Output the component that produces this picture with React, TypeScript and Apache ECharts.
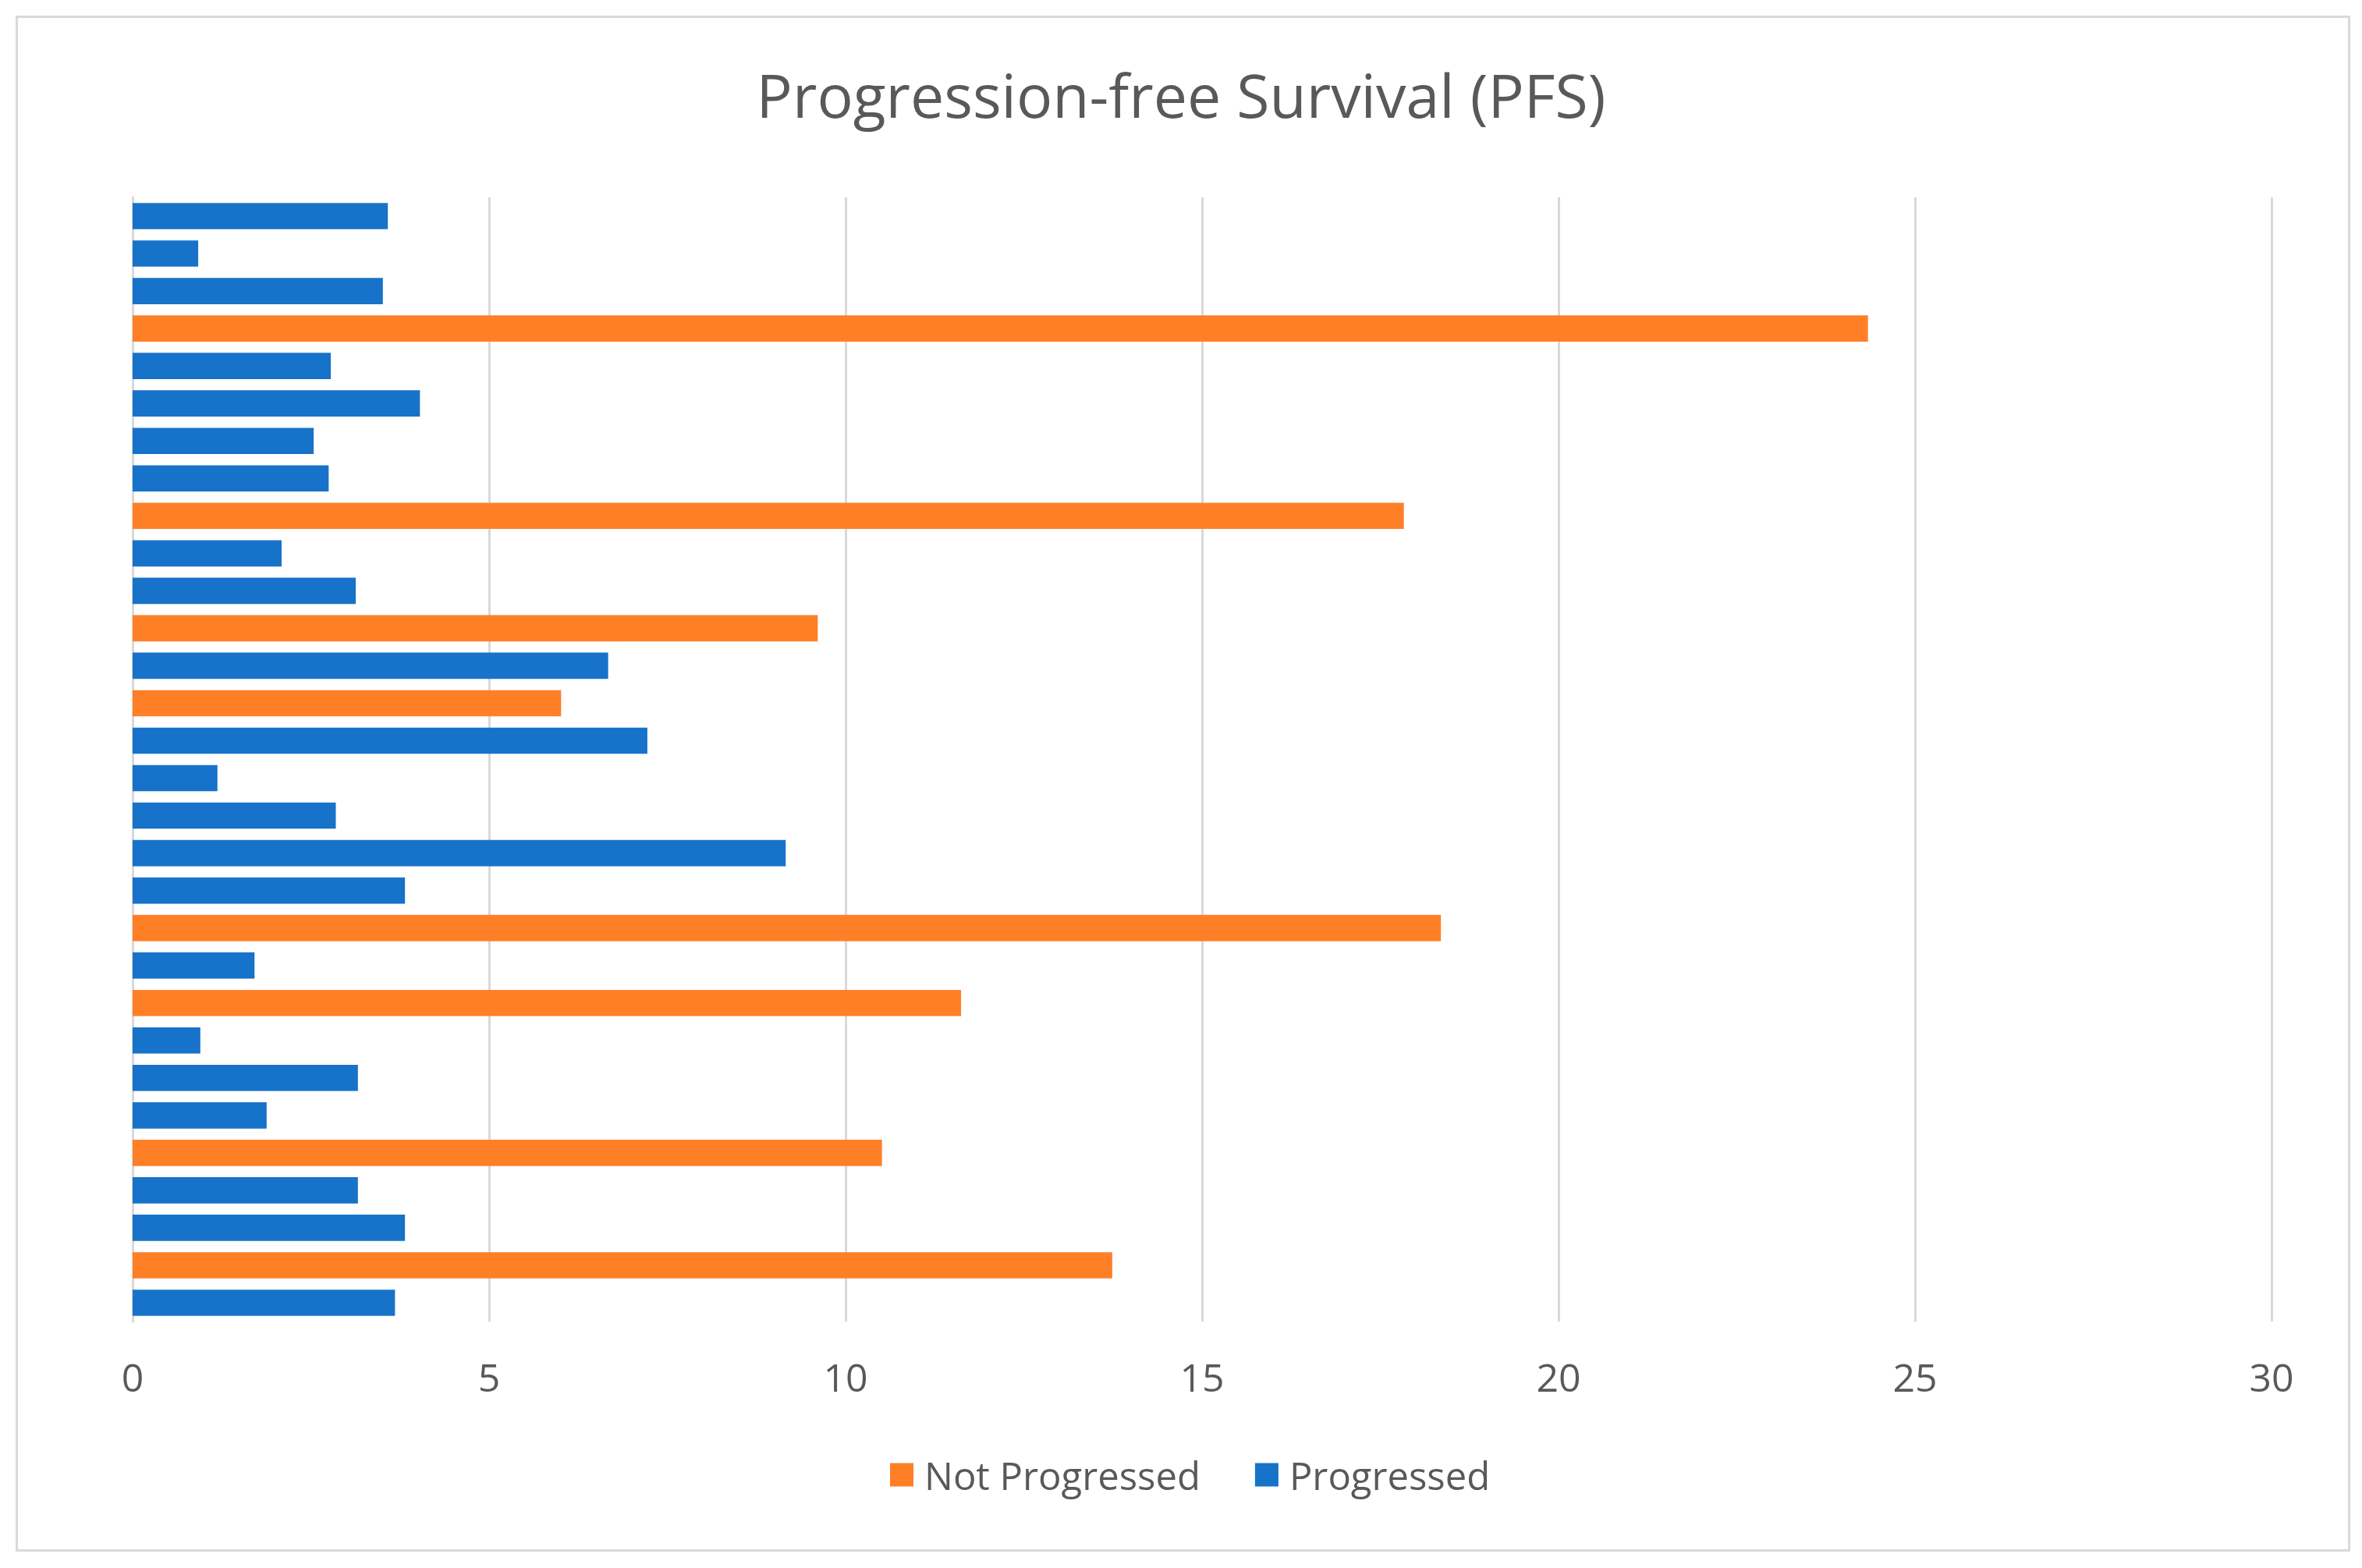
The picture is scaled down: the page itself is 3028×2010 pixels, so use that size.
import React, { useEffect, useRef } from "react";
import * as echarts from "echarts";

const categories = [
  "P1", "P2", "P3", "P4", "P5", "P6", "P7", "P8", "P9", "P10",
  "P11", "P12", "P13", "P14", "P15", "P16", "P17", "P18", "P19", "P20",
  "P21", "P22", "P23", "P24", "P25", "P26", "P27", "P28", "P29", "P30",
];

const progressed = [
  3.58, 0.92, 3.51, null, 2.78, 4.03, 2.54, 2.75, null, 2.09,
  3.13, null, 6.67, null, 7.22, 1.19, 2.85, 9.16, 3.82, null,
  1.71, null, 0.95, 3.16, 1.88, null, 3.16, 3.82, null, 3.68,
];

const notProgressed = [
  null, null, null, 24.34, null, null, null, null, 17.83, null,
  null, 9.61, null, 6.01, null, null, null, null, null, 18.35,
  null, 11.62, null, null, null, 10.51, null, null, 13.74, null,
];

const xTicks = { min: 0, max: 30, interval: 5 };

const BLUE = "#1772C9";
const ORANGE = "#FF7F27";
const TEXT = "#595959";
const GRID = "#D9D9D9";
const FONT = "'Open Sans', 'Noto Sans', sans-serif";

export default function App() {
  const ref = useRef<HTMLDivElement>(null);

  useEffect(() => {
    if (!ref.current) return;
    const chart = echarts.init(ref.current, undefined, { renderer: "svg" });
    chart.setOption({
      animation: false,
      backgroundColor: "#ffffff",
      textStyle: { fontFamily: FONT, color: TEXT },
      title: {
        text: "Progression-free Survival (PFS)",
        left: "center",
        top: 78,
        textStyle: { fontFamily: FONT, fontSize: 77, fontWeight: "normal", color: TEXT },
      },
      legend: {
        top: 1866,
        left: 1141,
        padding: 0,
        itemWidth: 30,
        itemHeight: 30,
        itemGap: 70,
        icon: "rect",
        textStyle: { fontFamily: FONT, fontSize: 49, color: TEXT, padding: [0, 0, 0, 9] },
        data: ["Not Progressed", "Progressed"],
      },
      grid: { left: 170, right: 116, top: 253, bottom: 316, containLabel: false },
      xAxis: {
        type: "value",
        min: xTicks.min,
        max: xTicks.max,
        interval: xTicks.interval,
        axisLine: { show: false },
        axisTick: { show: false },
        axisLabel: { fontFamily: FONT, fontSize: 50, color: TEXT, margin: 46 },
        splitLine: { show: true, lineStyle: { color: GRID, width: 3 } },
      },
      yAxis: {
        type: "category",
        data: categories,
        inverse: true,
        axisLine: { show: true, lineStyle: { color: GRID, width: 3 } },
        axisTick: { show: false },
        axisLabel: { show: false },
        splitLine: { show: false },
      },
      series: [
        {
          name: "Not Progressed",
          type: "bar",
          stack: "pfs",
          data: notProgressed.map((v) => (v === null ? "-" : v)),
          itemStyle: { color: ORANGE },
          barCategoryGap: "30%",
        },
        {
          name: "Progressed",
          type: "bar",
          stack: "pfs",
          data: progressed.map((v) => (v === null ? "-" : v)),
          itemStyle: { color: BLUE },
          barCategoryGap: "30%",
        },
      ],
      graphic: [
        {
          type: "rect",
          left: 19,
          top: 19,
          shape: { x: 0, y: 0, width: 2990, height: 1966 },
          style: { fill: "none", stroke: GRID, lineWidth: 3 },
          silent: true,
        },
      ],
    });
    return () => chart.dispose();
  }, []);

  return (
    <div
      ref={ref}
      style={{ position: "absolute", left: 0, top: 0, width: 3028, height: 2010, background: "#fff" }}
    />
  );
}
